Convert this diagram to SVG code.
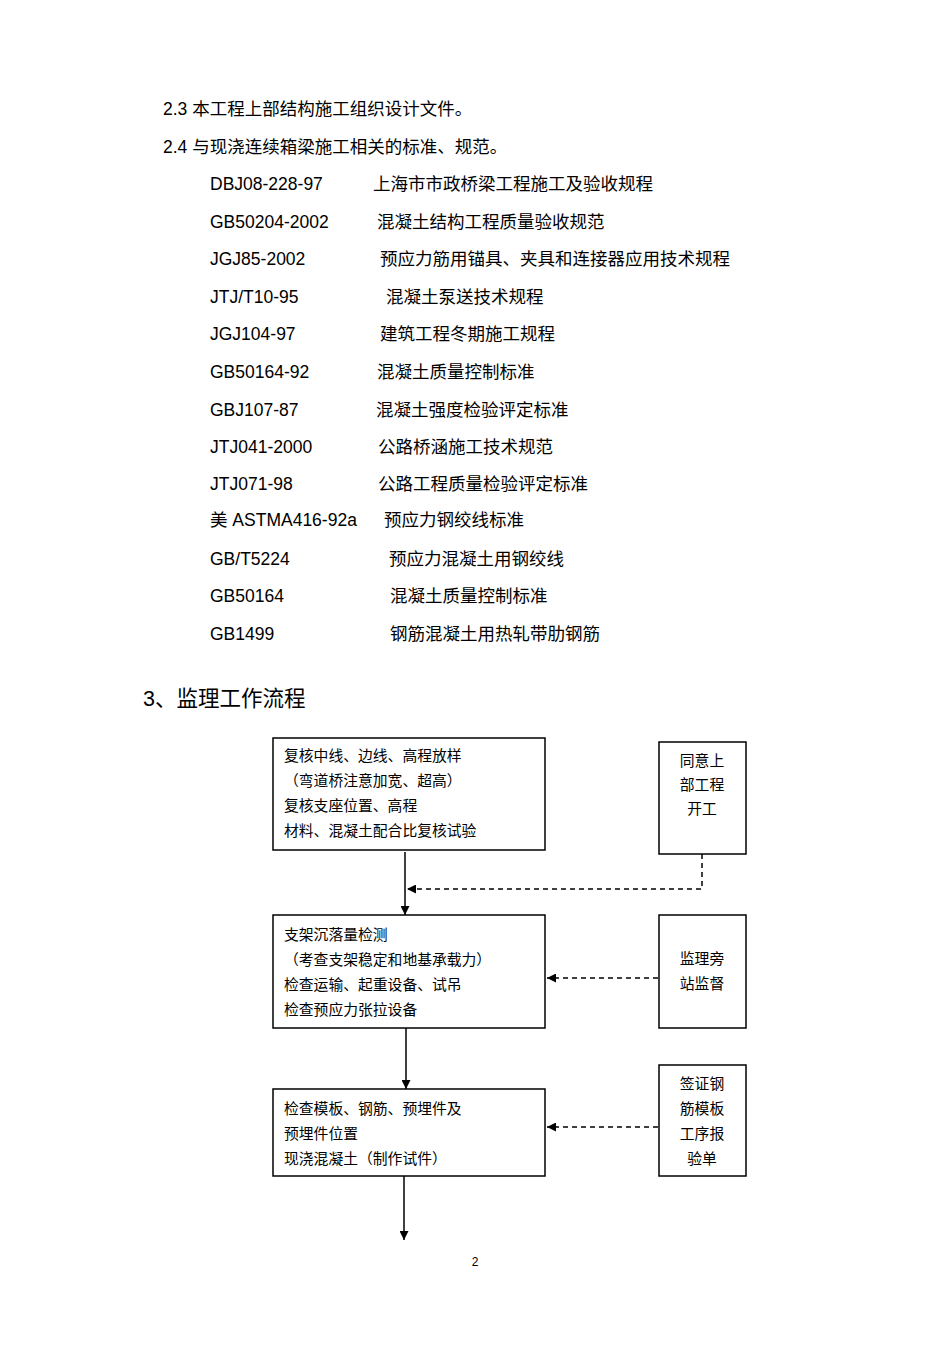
<svg xmlns="http://www.w3.org/2000/svg" width="950" height="1345" viewBox="0 0 950 1345">
<defs>
<style>
text{font-family:"Liberation Sans","Noto Sans CJK SC",sans-serif;fill:#000}
.t{font-size:17.5px}
.f{font-size:14.8px}
.h{font-size:21.5px}
.b{fill:#fff;stroke:#000;stroke-width:1.5}
.s{stroke:#000;stroke-width:1.5;fill:none}
.d{stroke:#000;stroke-width:1.5;fill:none;stroke-dasharray:5,4}
</style>
<marker id="a" viewBox="0 0 10 10" refX="10" refY="5" markerWidth="10" markerHeight="9" markerUnits="userSpaceOnUse" orient="auto"><path d="M0,0L10,5L0,10z" fill="#000"/></marker>
</defs>
<rect width="950" height="1345" fill="#fff"/>
<g class="t">
<text x="163" y="115">2.3 本工程上部结构施工组织设计文件。</text>
<text x="163" y="153">2.4 与现浇连续箱梁施工相关的标准、规范。</text>
<text x="210" y="190">DBJ08-228-97</text><text x="373" y="190">上海市市政桥梁工程施工及验收规程</text>
<text x="210" y="228">GB50204-2002</text><text x="377" y="228">混凝土结构工程质量验收规范</text>
<text x="210" y="265">JGJ85-2002</text><text x="380" y="265">预应力筋用锚具、夹具和连接器应用技术规程</text>
<text x="210" y="303">JTJ/T10-95</text><text x="386" y="303">混凝土泵送技术规程</text>
<text x="210" y="340">JGJ104-97</text><text x="380" y="340">建筑工程冬期施工规程</text>
<text x="210" y="378">GB50164-92</text><text x="377" y="378">混凝土质量控制标准</text>
<text x="210" y="416">GBJ107-87</text><text x="376" y="416">混凝土强度检验评定标准</text>
<text x="210" y="453">JTJ041-2000</text><text x="378" y="453">公路桥涵施工技术规范</text>
<text x="210" y="490">JTJ071-98</text><text x="378" y="490">公路工程质量检验评定标准</text>
<text x="210" y="526">美 ASTMA416-92a</text><text x="384" y="526">预应力钢绞线标准</text>
<text x="210" y="565">GB/T5224</text><text x="389" y="565">预应力混凝土用钢绞线</text>
<text x="210" y="602">GB50164</text><text x="390" y="602">混凝土质量控制标准</text>
<text x="210" y="640">GB1499</text><text x="390" y="640">钢筋混凝土用热轧带肋钢筋</text>
</g>
<text class="h" x="143" y="706">3、监理工作流程</text>
<g id="connectors">
<line class="s" x1="405" y1="852" x2="405" y2="915" marker-end="url(#a)"/>
<polyline class="d" points="702,854 702,889 407,889" marker-end="url(#a)"/>
<line class="d" x1="658" y1="978" x2="547" y2="978" marker-end="url(#a)"/>
<line class="s" x1="406" y1="1028" x2="406" y2="1089" marker-end="url(#a)"/>
<line class="d" x1="658" y1="1127" x2="547" y2="1127" marker-end="url(#a)"/>
<line class="s" x1="404" y1="1176" x2="404" y2="1240" marker-end="url(#a)"/>
</g>
<g id="n1"><rect class="b" x="273" y="738" width="272" height="112"/>
<text class="f" x="284" y="761">复核中线、边线、高程放样</text>
<text class="f" x="284" y="786">（弯道桥注意加宽、超高）</text>
<text class="f" x="284" y="811">复核支座位置、高程</text>
<text class="f" x="284" y="836">材料、混凝土配合比复核试验</text></g>
<g id="n2"><rect class="b" x="659" y="742" width="87" height="112"/>
<text class="f" x="702" y="766" text-anchor="middle">同意上</text>
<text class="f" x="702" y="790" text-anchor="middle">部工程</text>
<text class="f" x="702" y="814" text-anchor="middle">开工</text></g>
<g id="n3"><rect class="b" x="273" y="915" width="272" height="113"/>
<text class="f" x="284" y="940">支架沉落量检测</text>
<text class="f" x="284" y="965">（考查支架稳定和地基承载力）</text>
<text class="f" x="284" y="990">检查运输、起重设备、试吊</text>
<text class="f" x="284" y="1015">检查预应力张拉设备</text></g>
<g id="n4"><rect class="b" x="659" y="915" width="87" height="113"/>
<text class="f" x="702" y="964" text-anchor="middle">监理旁</text>
<text class="f" x="702" y="989" text-anchor="middle">站监督</text></g>
<g id="n5"><rect class="b" x="273" y="1089" width="272" height="87"/>
<text class="f" x="284" y="1114">检查模板、钢筋、预埋件及</text>
<text class="f" x="284" y="1139">预埋件位置</text>
<text class="f" x="284" y="1164">现浇混凝土（制作试件）</text></g>
<g id="n6"><rect class="b" x="659" y="1065" width="87" height="111"/>
<text class="f" x="702" y="1089" text-anchor="middle">签证钢</text>
<text class="f" x="702" y="1114" text-anchor="middle">筋模板</text>
<text class="f" x="702" y="1139" text-anchor="middle">工序报</text>
<text class="f" x="702" y="1164" text-anchor="middle">验单</text></g>
<text x="475" y="1266" font-size="12" text-anchor="middle">2</text>
</svg>
